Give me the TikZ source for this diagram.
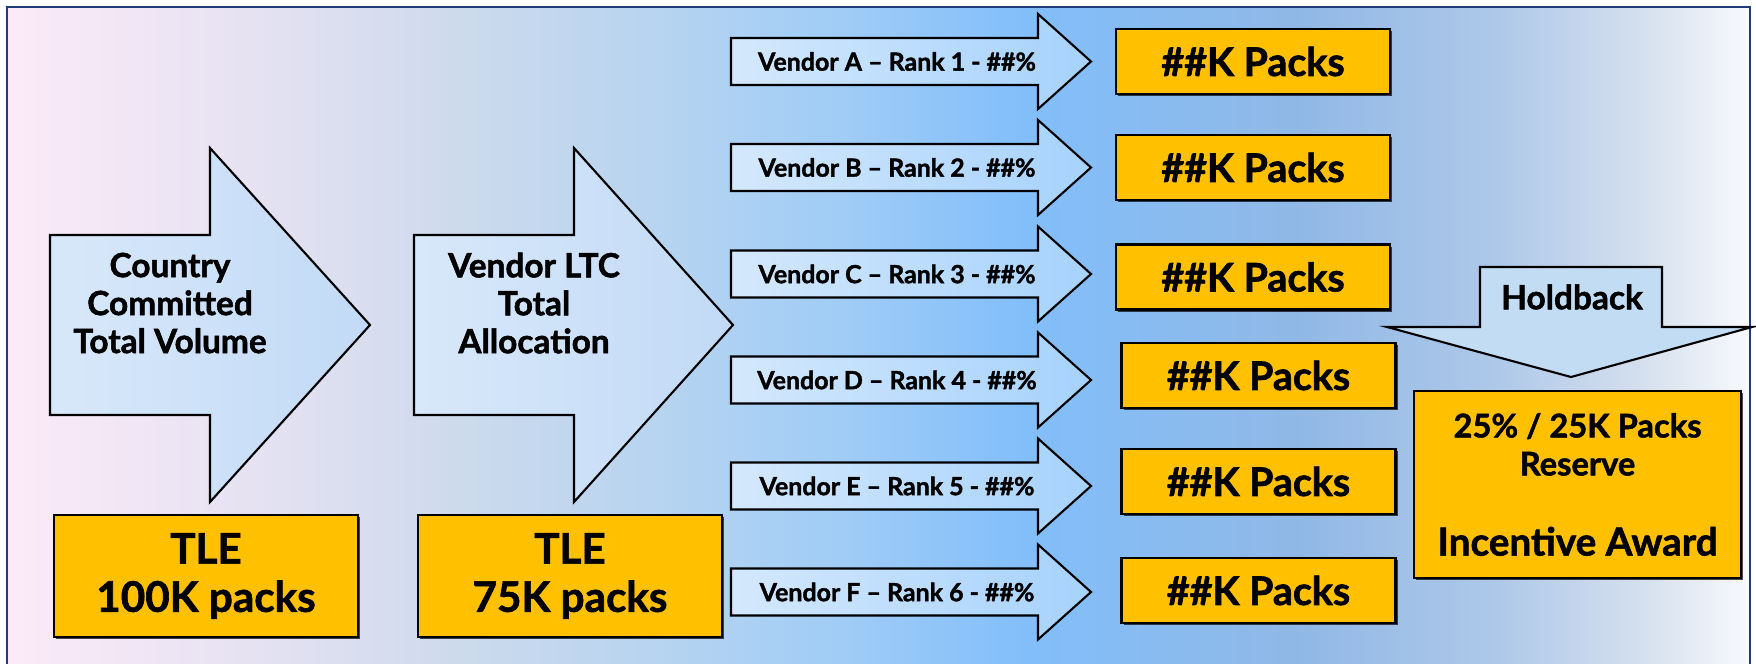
\documentclass[tikz,border=0pt]{standalone}
\usepackage{fontspec}
\setmainfont{Lato}[BoldFeatures={FakeBold=1.5}]
\usetikzlibrary{shadows}

\definecolor{packgold}{HTML}{FFC000}
\definecolor{framenavy}{HTML}{1F3C78}
\definecolor{bgA}{HTML}{FCEAF8}
\definecolor{bgB}{HTML}{E6E2F2}
\definecolor{bgC}{HTML}{CDDAEC}
\definecolor{bgD}{HTML}{B8D4F0}
\definecolor{bgE}{HTML}{A0CCF6}
\definecolor{bgF}{HTML}{82BEFA}
\definecolor{bgG}{HTML}{90B8E6}
\definecolor{bgH}{HTML}{AEC8E8}
\definecolor{bgI}{HTML}{D6E0EE}
\definecolor{bgJ}{HTML}{F8FAFD}
\definecolor{bigleft}{HTML}{D8E8FA}
\definecolor{bigright}{HTML}{C2DAF6}
\definecolor{vendorleft}{HTML}{D4E8FC}
\definecolor{vendorright}{HTML}{A6D2FC}
\definecolor{holdfill}{HTML}{C2DCF4}

\pgfdeclarehorizontalshading{backdrop}{100bp}{color(0bp)=(bgA); color(25bp)=(bgA);
  color(32bp)=(bgB); color(38bp)=(bgC); color(43.5bp)=(bgD); color(49bp)=(bgE);
  color(54.3bp)=(bgF); color(62bp)=(bgG); color(67.7bp)=(bgH); color(72bp)=(bgI);
  color(75bp)=(bgJ); color(100bp)=(bgJ)}

\tikzset{
  bigarrow/.style={draw=black, line width=0.6pt, left color=bigleft, right color=bigright},
  vendorarrow/.style={draw=black, line width=0.6pt, left color=vendorleft, right color=vendorright},
  holdarrow/.style={draw=black, line width=0.6pt, fill=holdfill},
  boxshadow/.style={drop shadow={shadow xshift=0.7pt, shadow yshift=-0.7pt, fill=black, opacity=0.7}},
  packbox/.style={draw=black, line width=0.6pt, fill=packgold, boxshadow, minimum width=2.74cm, minimum height=0.65cm, inner sep=0pt, font=\fontsize{11.2}{13}\selectfont\bfseries},
  tlebox/.style={draw=black, line width=0.6pt, fill=packgold, boxshadow, minimum width=3.04cm, minimum height=1.22cm, inner sep=0pt, align=center, font=\fontsize{12}{13.7}\selectfont\bfseries},
  vendortext/.style={inner sep=0pt, font=\fontsize{7.1}{8}\selectfont\bfseries},
  bigtext/.style={inner sep=0pt, align=center, font=\fontsize{9.5}{10.8}\selectfont\bfseries},
}

\begin{document}
\begin{tikzpicture}
    \useasboundingbox (0,0) rectangle (17.56,6.63);

    % Background panel
    \shadedraw[shading=backdrop, draw=framenavy, line width=0.8pt] (0.07,-0.3) rectangle (17.50,6.56);

    % Big arrows on the left
    \draw[bigarrow] (0.50,4.28) -- (2.10,4.28) -- (2.10,5.15) -- (3.70,3.38) -- (2.10,1.61) -- (2.10,2.48) -- (0.50,2.48) -- cycle;
    \node[bigtext] (country) at (1.70,3.60) {Country\\Committed\\Total Volume};
    \draw[bigarrow] (4.14,4.28) -- (5.74,4.28) -- (5.74,5.15) -- (7.33,3.38) -- (5.74,1.61) -- (5.74,2.48) -- (4.14,2.48) -- cycle;
    \node[bigtext] (ltc) at (5.34,3.60) {Vendor LTC\\Total\\Allocation};

    % TLE boxes
    \node[tlebox] (tlecountry) at (2.06,0.87) {TLE\\100K packs};
    \node[tlebox] (tleltc) at (5.70,0.87) {TLE\\75K packs};

    % Vendor arrows
    \draw[vendorarrow] (7.31,6.25) -- ++(3.07,0) -- ++(0,0.24) -- ++(0.53,-0.475) -- ++(-0.53,-0.475) -- ++(0,0.24) -- ++(-3.07,0) -- cycle;
    \node[vendortext] (vendora) at (8.97,6.015) {Vendor A – Rank 1 - \#\#\%};
    \draw[vendorarrow] (7.31,5.19) -- ++(3.07,0) -- ++(0,0.24) -- ++(0.53,-0.475) -- ++(-0.53,-0.475) -- ++(0,0.24) -- ++(-3.07,0) -- cycle;
    \node[vendortext] (vendorb) at (8.97,4.955) {Vendor B – Rank 2 - \#\#\%};
    \draw[vendorarrow] (7.31,4.125) -- ++(3.07,0) -- ++(0,0.24) -- ++(0.53,-0.475) -- ++(-0.53,-0.475) -- ++(0,0.24) -- ++(-3.07,0) -- cycle;
    \node[vendortext] (vendorc) at (8.97,3.89) {Vendor C – Rank 3 - \#\#\%};
    \draw[vendorarrow] (7.31,3.065) -- ++(3.07,0) -- ++(0,0.24) -- ++(0.53,-0.475) -- ++(-0.53,-0.475) -- ++(0,0.24) -- ++(-3.07,0) -- cycle;
    \node[vendortext] (vendord) at (8.97,2.83) {Vendor D – Rank 4 - \#\#\%};
    \draw[vendorarrow] (7.31,2.005) -- ++(3.07,0) -- ++(0,0.24) -- ++(0.53,-0.475) -- ++(-0.53,-0.475) -- ++(0,0.24) -- ++(-3.07,0) -- cycle;
    \node[vendortext] (vendore) at (8.97,1.77) {Vendor E – Rank 5 - \#\#\%};
    \draw[vendorarrow] (7.31,0.945) -- ++(3.07,0) -- ++(0,0.24) -- ++(0.53,-0.475) -- ++(-0.53,-0.475) -- ++(0,0.24) -- ++(-3.07,0) -- cycle;
    \node[vendortext] (vendorf) at (8.97,0.71) {Vendor F – Rank 6 - \#\#\%};

    % Pack boxes
    \node[packbox] (packsa) at (12.53,6.015) {\#\#K Packs};
    \node[packbox] (packsb) at (12.53,4.955) {\#\#K Packs};
    \node[packbox] (packsc) at (12.53,3.86) {\#\#K Packs};
    \node[packbox] (packsd) at (12.585,2.875) {\#\#K Packs};
    \node[packbox] (packse) at (12.585,1.815) {\#\#K Packs};
    \node[packbox] (packsf) at (12.585,0.725) {\#\#K Packs};

    % Holdback arrow and reserve
    \draw[holdarrow] (14.80,3.96) -- (16.62,3.96) -- (16.62,3.36) -- (17.52,3.36) -- (15.71,2.86) -- (13.87,3.36) -- (14.80,3.36) -- cycle;
    \node[inner sep=0pt, font=\fontsize{9.5}{11}\selectfont\bfseries] (holdback) at (15.72,3.66) {Holdback};
    \node[draw=black, line width=0.6pt, fill=packgold, boxshadow, minimum width=3.27cm, minimum height=1.87cm, inner sep=0pt, align=center, font=\fontsize{9.3}{10.8}\selectfont\bfseries] (reserve) at (15.775,1.785)
        {25\% / 25K Packs\\Reserve\\[12pt]{\fontsize{11}{12}\selectfont Incentive Award}};
\end{tikzpicture}
\end{document}
